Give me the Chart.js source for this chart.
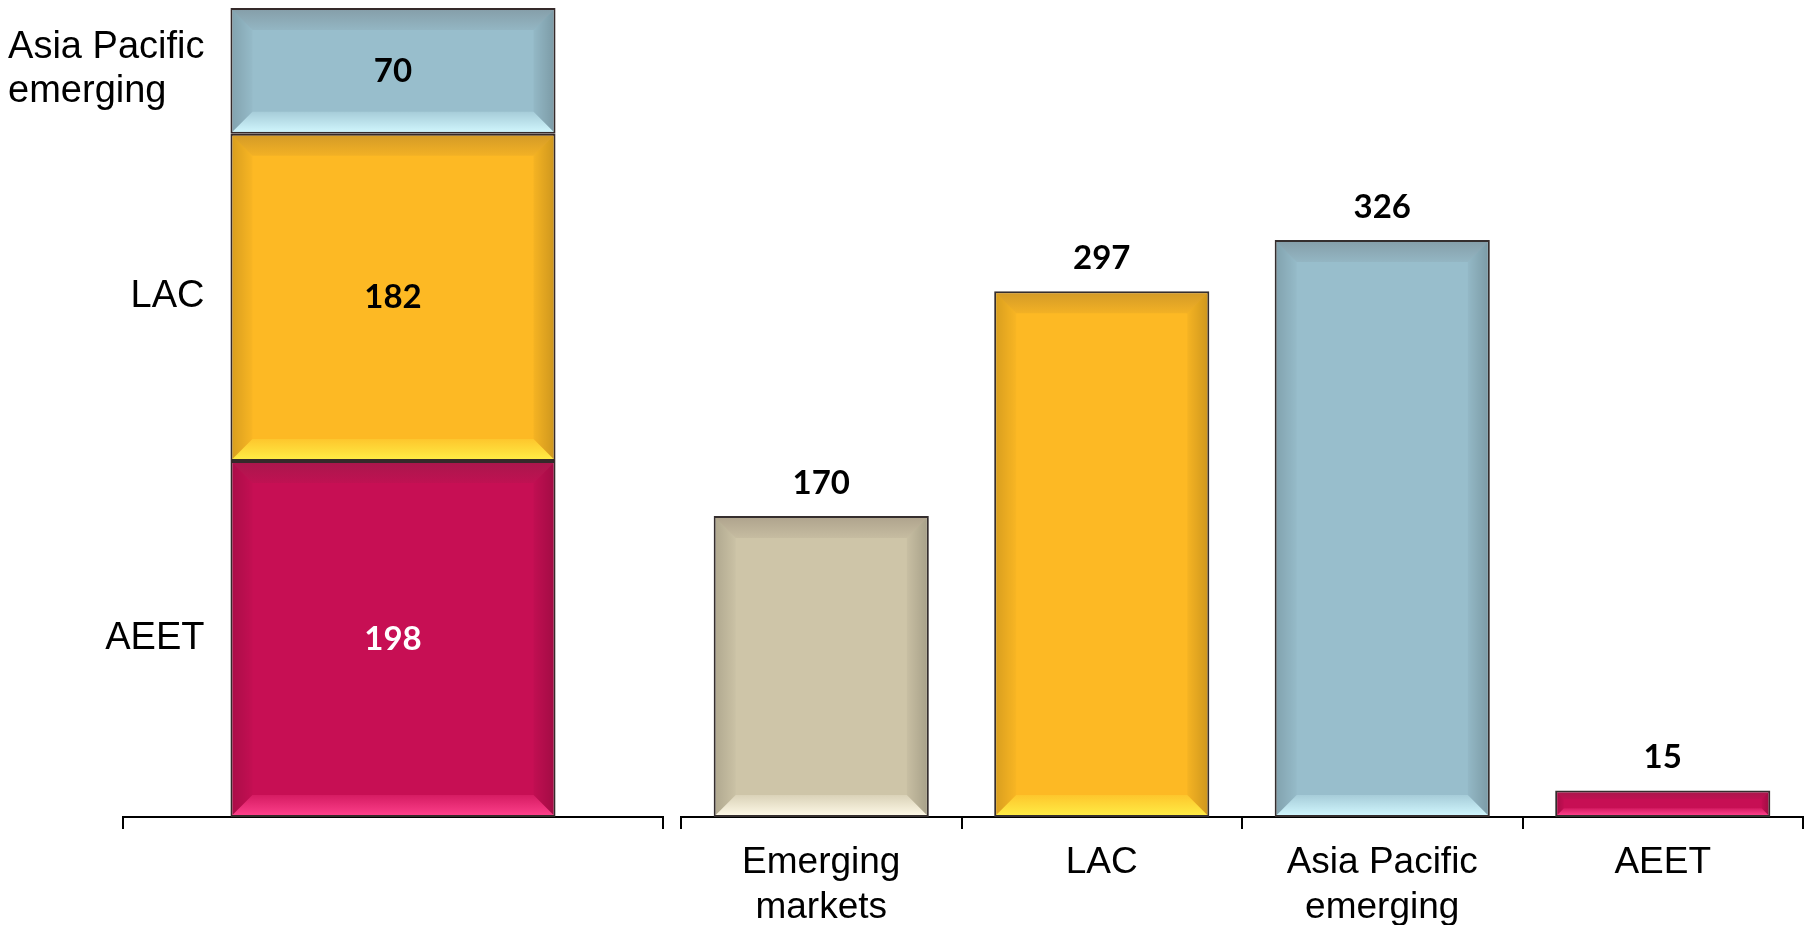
<!DOCTYPE html>
<html>
<head>
<meta charset="utf-8">
<script src="https://cdn.jsdelivr.net/npm/chart.js@4.4.0/dist/chart.umd.min.js"></script>
<style>
  body { margin: 0; background: #fff; }
  #wrap { position: relative; width: 1810px; height: 925px; overflow: hidden; }
  canvas { position: absolute; top: 0; }
  #stack { left: 0; }
  #regions { left: 670px; }
</style>
</head>
<body>
<div id="wrap">
  <canvas id="stack" width="680" height="925"></canvas>
  <canvas id="regions" width="1140" height="925"></canvas>
</div>
<script>
// left stacked bar (bottom to top)
const stackNames = ['AEET', 'LAC', 'Asia Pacific emerging'];
const stackLabels = ['AEET', 'LAC', ['Asia Pacific', 'emerging']];
const stackValues = [198, 182, 70];

// right bars
const regionLabels = [['Emerging', 'markets'], 'LAC', ['Asia Pacific', 'emerging'], 'AEET'];
const regionValues = [170, 297, 326, 15];

// colours per region
const palette = {
    'AEET': { fill: '#C70F54', hi: 'rgba(255,65,140,', text: '#fff' },
    'LAC': { fill: '#FDB924', hi: 'rgba(255,238,70,', text: '#000' },
    'Asia Pacific emerging': { fill: '#98BECC', hi: 'rgba(210,248,255,', text: '#000' },
    'Emerging markets': { fill: '#CEC5A8', hi: 'rgba(255,250,232,', text: '#000' }
};
const regionKeys = ['Emerging markets', 'LAC', 'Asia Pacific emerging', 'AEET'];

const labelFont = '"Liberation Sans", Arial, sans-serif';
const valueFont = 'bold 33px Lato, "Open Sans", sans-serif';

function poly(ctx, pts, fill) {
    ctx.beginPath();
    ctx.moveTo(pts[0][0], pts[0][1]);
    for (let i = 1; i < pts.length; i++) ctx.lineTo(pts[i][0], pts[i][1]);
    ctx.closePath();
    ctx.fillStyle = fill;
    ctx.fill();
}

function grad(ctx, x0, y0, x1, y1, c0, c1) {
    const g = ctx.createLinearGradient(x0, y0, x1, y1);
    g.addColorStop(0, c0);
    g.addColorStop(1, c1);
    return g;
}

// imitation of the bevelled bar look
function drawBevel(ctx, bar, hi) {
    const p = bar.getProps(['x', 'y', 'base', 'width'], true);
    const l = p.x - p.width / 2 + 2, r = p.x + p.width / 2 - 2;
    const t = Math.min(p.y, p.base) + 2, bt = Math.max(p.y, p.base) - 2;
    const b = Math.min(20, (bt - t) * 0.3, (r - l) * 0.3);
    poly(ctx, [[l, t], [r, t], [r - b, t + b], [l + b, t + b]],
        grad(ctx, 0, t, 0, t + b, 'rgba(70,50,50,0.22)', 'rgba(70,50,50,0.06)'));
    poly(ctx, [[l, bt], [r, bt], [r - b, bt - b], [l + b, bt - b]],
        grad(ctx, 0, bt, 0, bt - b, hi + '0.95)', hi + '0.25)'));
    poly(ctx, [[l, t], [l + b, t + b], [l + b, bt - b], [l, bt]],
        grad(ctx, l, 0, l + b, 0, 'rgba(0,0,0,0.14)', 'rgba(0,0,0,0.02)'));
    poly(ctx, [[r, t], [r - b, t + b], [r - b, bt - b], [r, bt]],
        grad(ctx, r, 0, r - b, 0, 'rgba(0,0,0,0.18)', 'rgba(0,0,0,0.03)'));
}

const stackPlugin = {
    id: 'stackDecor',
    afterDatasetsDraw(chart) {
        const ctx = chart.ctx;
        ctx.save();
        chart.data.datasets.forEach((ds, i) => {
            const bar = chart.getDatasetMeta(i).data[0];
            const st = palette[stackNames[i]];
            drawBevel(ctx, bar, st.hi);
            const mid = (bar.y + bar.base) / 2;
            // value inside the segment
            ctx.font = valueFont;
            ctx.fillStyle = st.text;
            ctx.textAlign = 'center';
            ctx.textBaseline = 'middle';
            ctx.fillText(ds.data[0], bar.x, mid);
            // series name to the left, block right-aligned, lines left-aligned
            const lines = [].concat(stackLabels[i]);
            ctx.font = '38px ' + labelFont;
            ctx.fillStyle = '#000';
            ctx.textAlign = 'left';
            const w = Math.max.apply(null, lines.map(s => ctx.measureText(s).width));
            const x0 = bar.x - bar.width / 2 - 26 - w;
            const lh = 44;
            lines.forEach((ln, k) => {
                ctx.fillText(ln, x0, mid - 1 + (k - (lines.length - 1) / 2) * lh);
            });
        });
        ctx.restore();
    }
};

const regionPlugin = {
    id: 'regionDecor',
    afterDatasetsDraw(chart) {
        const ctx = chart.ctx;
        ctx.save();
        chart.getDatasetMeta(0).data.forEach((bar, i) => {
            drawBevel(ctx, bar, palette[regionKeys[i]].hi);
            ctx.font = valueFont;
            ctx.fillStyle = '#000';
            ctx.textAlign = 'center';
            ctx.textBaseline = 'middle';
            ctx.fillText(regionValues[i], bar.x, bar.y - 33);
        });
        ctx.restore();
    }
};

function xAxis() {
    return {
        offset: true,
        grid: { display: true, offset: true, drawOnChartArea: false, drawTicks: true, tickLength: 12, color: '#000', lineWidth: 2 },
        border: { display: true, color: '#000', width: 2 },
        ticks: { font: { family: labelFont, size: 37 }, color: '#000', padding: 12, maxRotation: 0, autoSkip: false },
        afterFit: function(scale) { scale.height = 108; }
    };
}

new Chart(document.getElementById('stack').getContext('2d'), {
    type: 'bar',
    data: {
        labels: [''],
        datasets: stackNames.map((n, i) => ({
            label: n,
            data: [stackValues[i]],
            backgroundColor: palette[n].fill,
            borderColor: '#352a2a',
            borderWidth: 2,
            borderSkipped: false,
            barPercentage: 0.602,
            categoryPercentage: 1
        }))
    },
    options: {
        responsive: false,
        animation: false,
        layout: { padding: { left: 123, right: 17, top: 8, bottom: 0 } },
        plugins: { legend: { display: false }, tooltip: { enabled: false } },
        scales: {
            x: Object.assign(xAxis(), { stacked: true }),
            y: { stacked: true, display: false, min: 0, max: 450 }
        }
    },
    plugins: [stackPlugin]
});

new Chart(document.getElementById('regions').getContext('2d'), {
    type: 'bar',
    data: {
        labels: regionLabels,
        datasets: [{
            data: regionValues,
            backgroundColor: regionKeys.map(k => palette[k].fill),
            borderColor: '#352e2e',
            borderWidth: 2,
            borderSkipped: false,
            barPercentage: 0.767,
            categoryPercentage: 1
        }]
    },
    options: {
        responsive: false,
        animation: false,
        layout: { padding: { left: 11, right: 7, top: 8, bottom: 0 } },
        plugins: { legend: { display: false }, tooltip: { enabled: false } },
        scales: {
            x: xAxis(),
            y: { display: false, min: 0, max: 457 }
        }
    },
    plugins: [regionPlugin]
});
</script>
</body>
</html>
